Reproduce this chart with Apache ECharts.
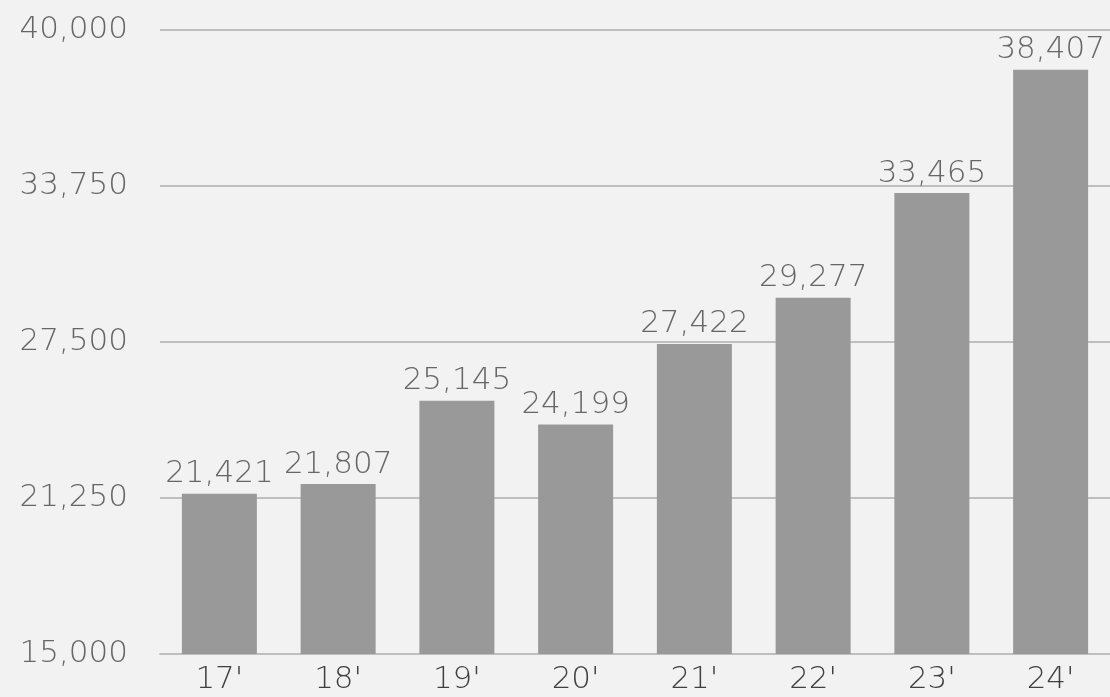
<!DOCTYPE html>
<html><head><meta charset="utf-8">
<style>html,body{margin:0;padding:0;background:#f2f2f2;}#c{width:1110px;height:697px;}</style>
<script src="https://cdn.jsdelivr.net/npm/echarts@6/dist/echarts.min.js"></script>
</head><body><div id="c"></div>
<script>
const categories = ["17'", "18'", "19'", "20'", "21'", "22'", "23'", "24'"];
const values = [21421, 21807, 25145, 24199, 27422, 29277, 33465, 38407];
const yTicks = [15000, 21250, 27500, 33750, 40000];

const font = '"DejaVu Sans", sans-serif';
const chart = echarts.init(document.getElementById('c'));
const fmt = v => v.toLocaleString('en-US');
chart.setOption({
  backgroundColor: '#f2f2f2',
  animation: false,
  grid: {left: 160, right: 0, top: 30, bottom: 43, containLabel: false},
  xAxis: {
    type: 'category', data: categories,
    axisLine: {lineStyle: {color: '#bfbfbf', width: 2}},
    axisTick: {show: false},
    axisLabel: {color: '#404040', fontSize: 31, fontWeight: 200, fontFamily: font, margin: 10}
  },
  yAxis: {
    type: 'value', min: yTicks[0], max: yTicks[yTicks.length - 1],
    interval: yTicks[1] - yTicks[0],
    axisLine: {show: false}, axisTick: {show: false},
    splitLine: {lineStyle: {color: '#bfbfbf', width: 2}},
    axisLabel: {color: '#666666', fontSize: 31, fontWeight: 200, fontFamily: font, margin: 32, formatter: fmt}
  },
  series: [{
    type: 'bar', data: values, barWidth: 75,
    itemStyle: {color: '#999999'},
    label: {show: true, position: 'top', distance: 4, color: '#666666', fontSize: 31, fontWeight: 200, fontFamily: font,
      formatter: p => fmt(p.value)}
  }]
});
</script></body></html>
